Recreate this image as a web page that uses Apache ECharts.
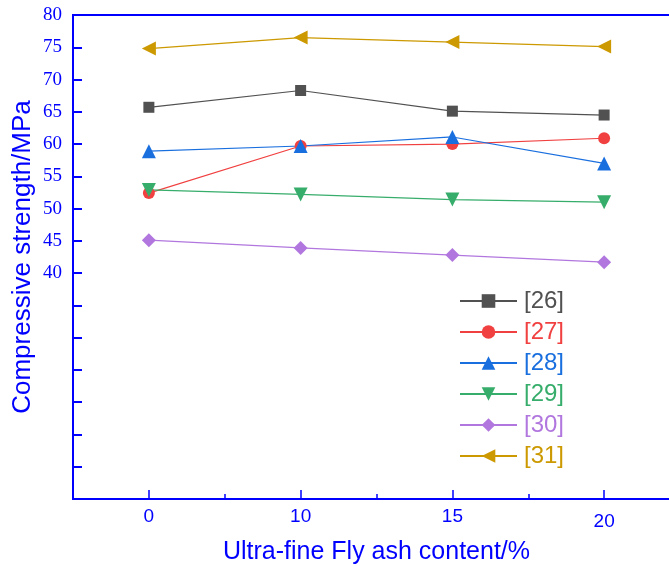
<!DOCTYPE html>
<html>
<head>
<meta charset="utf-8">
<script src="https://cdn.jsdelivr.net/npm/echarts@6/dist/echarts.min.js"></script>
<style>html,body{margin:0;padding:0;background:#fff}#c{width:669px;height:566px}</style>
</head>
<body>
<div id="c"></div>
<script>
var categories = ['0', '10', '15', '20'];
var yTicksShown = [40, 45, 50, 55, 60, 65, 70, 75, 80];
var s26 = [65.7, 68.3, 65.1, 64.5];
var s27 = [52.4, 59.7, 60.0, 60.9];
var s28 = [58.9, 59.7, 61.1, 57.0];
var s29 = [52.9, 52.2, 51.4, 51.0];
var s30 = [45.1, 43.9, 42.8, 41.7];
var s31 = [74.8, 76.5, 75.8, 75.1];
var names = ['[26]', '[27]', '[28]', '[29]', '[30]', '[31]'];
var colors = ['#515151', '#F14040', '#1A6FDF', '#37AD6B', '#B177DE', '#CC9900'];

var blue = '#0000FF';
var chart = echarts.init(document.getElementById('c'));
var symbols = [
  {symbol: 'rect', size: 11, rotate: 0},
  {symbol: 'circle', size: 12, rotate: 0},
  {symbol: 'triangle', size: 14, rotate: 0},
  {symbol: 'triangle', size: 14, rotate: 180},
  {symbol: 'diamond', size: 14, rotate: 0},
  {symbol: 'triangle', size: 14, rotate: 90}
];
var dataSets = [s26, s27, s28, s29, s30, s31];
var series = dataSets.map(function (d, i) {
  return {
    name: names[i], type: 'line', data: d,
    symbol: symbols[i].symbol, symbolSize: symbols[i].size, symbolRotate: symbols[i].rotate,
    itemStyle: {color: colors[i]},
    lineStyle: {color: colors[i], width: 1.2},
    animation: false, z: 3
  };
});
chart.setOption({
  animation: false,
  backgroundColor: '#fff',
  grid: {left: 73, top: 15, width: 607, height: 484, show: true, borderColor: blue, borderWidth: 2, backgroundColor: 'transparent', containLabel: false, outerBoundsMode: 'none'},
  legend: {
    orient: 'vertical', left: 454, top: 284, itemWidth: 57, itemHeight: 17, itemGap: 7,
    data: names.map(function (n, i) { return {name: n, textStyle: {color: colors[i]}}; }),
    textStyle: {fontFamily: 'Liberation Sans', fontSize: 24, lineHeight: 24, padding: [0,0,0,2]}
  },
  xAxis: [{
    type: 'category', data: categories, position: 'bottom', boundaryGap: true,
    axisLine: {show: true, lineStyle: {color: blue, width: 2}},
    axisTick: {show: true, inside: true, alignWithLabel: true, length: 9, lineStyle: {color: blue, width: 1.5}},
    axisLabel: {color: blue, fontFamily: 'Liberation Sans', fontSize: 19, margin: 8,
      formatter: function (v) { return v === '20' ? '{l|' + v + '}' : v; },
      rich: {l: {fontFamily: 'Liberation Sans', fontSize: 19, color: blue, padding: [5, 0, 0, 0]}}},
    splitLine: {show: false},
    name: 'Ultra-fine Fly ash content/%', nameLocation: 'middle', nameGap: 41, nameMoveOverlap: false,
    nameTextStyle: {color: blue, fontFamily: 'Liberation Sans', fontSize: 25}
  }, {
    type: 'category', data: categories, position: 'bottom', boundaryGap: true,
    axisLine: {show: false},
    axisTick: {show: true, inside: true, length: 5, lineStyle: {color: blue, width: 1.5}},
    axisLabel: {show: false}, splitLine: {show: false}
  }],
  yAxis: {
    type: 'value', min: 5, max: 80, interval: 5,
    axisLine: {show: true, lineStyle: {color: blue, width: 2}},
    axisTick: {show: true, inside: true, length: 9, lineStyle: {color: blue, width: 2}},
    axisLabel: {color: blue, fontFamily: 'Liberation Serif', fontSize: 19, margin: 11,
      formatter: function (v) { return yTicksShown.indexOf(v) >= 0 ? String(v) : ''; }},
    splitLine: {show: false},
    name: 'Compressive strength/MPa', nameLocation: 'middle', nameGap: 37, nameMoveOverlap: false,
    nameTextStyle: {color: blue, fontFamily: 'Liberation Sans', fontSize: 26}
  },
  series: series
});
</script>
</body>
</html>
